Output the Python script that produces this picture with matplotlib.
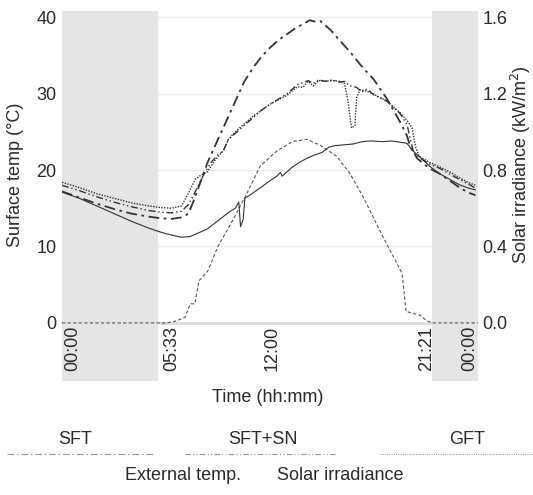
import matplotlib
matplotlib.use("Agg")
import matplotlib.pyplot as plt
from matplotlib.lines import Line2D

plt.rcParams['font.family'] = ['Liberation Sans', 'DejaVu Sans']

# --- data (hours since midnight) ---
t_sft = [0, 1, 2, 3, 4, 5, 5.65, 6.3, 6.9, 7.3, 7.6, 8.0, 8.4, 8.9, 9.5, 10.0, 10.5, 11.0,
         11.5, 12.0, 12.5, 13.0, 13.5, 14.0, 14.3, 14.6, 14.9, 15.5, 16.0, 16.6, 17.2, 18.0,
         18.75, 19.5, 19.9, 20.1, 20.5, 21.2, 21.8, 22.5, 23.0, 23.5, 23.85]
sft = [17.2, 16.4, 15.6, 14.9, 14.3, 13.9, 13.7, 13.6, 13.8, 14.3, 16.0, 18.5, 21.0, 23.5,
       26.5, 29.0, 31.5, 33.3, 34.8, 36.0, 37.0, 37.8, 38.6, 39.2, 39.6, 39.4, 39.5, 38.3,
       37.0, 35.5, 33.8, 31.8, 29.3, 26.3, 24.5, 23.0, 21.5, 20.2, 19.5, 18.4, 17.6, 17.0, 16.7]

t_sftsn = [0, 1, 2, 3, 4, 5, 5.65, 6.3, 6.9, 7.3, 7.7, 8.2, 8.6, 9.0, 9.3, 9.6, 10.0, 10.5,
           11.0, 11.5, 12.0, 12.5, 13.0, 13.3, 13.6, 13.9, 14.2, 14.5, 14.8, 15.2, 15.6, 16.0,
           16.3, 16.6, 17.0, 17.3, 17.6, 18.0, 18.75, 19.5, 19.9, 20.1, 20.3, 20.7, 21.2, 21.8,
           22.5, 23.0, 23.5, 23.85]
sftsn = [18.0, 17.3, 16.5, 15.8, 15.2, 14.7, 14.5, 14.4, 14.6, 15.5, 17.2, 19.5, 21.0, 22.0,
         22.5, 24.0, 24.8, 25.8, 26.8, 27.8, 28.6, 29.3, 30.0, 30.6, 31.2, 31.4, 31.7, 31.3,
         31.8, 31.6, 31.8, 31.5, 31.6, 31.0, 30.8, 30.2, 30.6, 29.8, 29.0, 27.4, 26.0, 24.0,
         22.2, 21.5, 20.8, 20.2, 19.3, 18.7, 18.1, 17.6]

t_gft = [0, 1, 2, 3, 4, 5, 5.65, 6.3, 6.9, 7.3, 7.7, 8.0, 8.4, 8.8, 9.3, 9.6, 10.0, 10.5,
         11.0, 11.5, 12.0, 12.5, 13.0, 13.3, 13.6, 13.9, 14.2, 14.5, 14.8, 15.2, 15.6, 16.0,
         16.3, 16.5, 16.7, 16.9, 17.0, 17.2, 17.6, 18.0, 18.75, 19.5, 19.9, 20.2, 20.4, 20.6,
         21.2, 21.8, 22.5, 23.0, 23.5, 23.85]
gft = [18.4, 17.7, 16.9, 16.3, 15.7, 15.3, 15.1, 15.0, 15.3, 17.0, 18.8, 19.3, 19.8, 21.2,
       22.5, 24.0, 25.0, 26.0, 27.0, 27.8, 28.6, 29.2, 29.8, 30.4, 30.9, 30.8, 31.6, 31.0,
       31.7, 31.6, 31.7, 31.6, 31.3, 29.0, 25.5, 25.8, 29.5, 30.5, 30.3, 29.9, 29.0, 27.5,
       26.5, 25.5, 23.0, 21.8, 21.0, 20.4, 19.6, 18.9, 18.3, 18.0]

t_ext = [0, 1, 2, 3, 4, 5, 5.65, 6.3, 6.9, 7.4, 7.9, 8.4, 8.9, 9.3, 9.7, 10.0, 10.2, 10.3,
         10.45, 10.55, 10.9, 11.4, 12.0, 12.4, 12.6, 12.7, 13.0, 13.3, 13.7, 14.1, 14.5, 15.0,
         15.4, 15.8, 16.3, 16.8, 17.3, 17.8, 18.5, 19.0, 19.6, 19.9, 20.2, 20.6, 21.2, 21.8,
         22.5, 23.0, 23.5, 23.85]
ext = [17.1, 16.3, 15.3, 14.3, 13.3, 12.4, 11.9, 11.5, 11.2, 11.3, 11.8, 12.3, 13.2, 13.9,
       14.6, 15.0, 15.8, 12.6, 13.5, 16.3, 16.8, 17.6, 18.6, 19.2, 19.7, 19.2, 19.8, 20.4,
       21.0, 21.5, 21.9, 22.3, 23.0, 23.2, 23.3, 23.4, 23.7, 23.8, 23.7, 23.8, 23.6, 23.5,
       22.6, 21.8, 20.5, 19.5, 18.6, 18.0, 17.6, 17.4]

t_irr = [0, 5.55, 6.05, 6.6, 7.1, 7.4, 7.67, 7.9, 8.4, 9.0, 9.87, 10.68, 11.43, 12.4, 13.33,
         14.14, 14.89, 15.87, 16.62, 17.37, 18.52, 19.33, 19.62, 19.85, 20.25, 20.66, 21.06,
         21.4, 24.0]
irr = [0.0, 0.0, 0.0, 0.01, 0.03, 0.10, 0.10, 0.22, 0.27, 0.40, 0.54, 0.68, 0.82, 0.90, 0.95,
       0.96, 0.93, 0.87, 0.78, 0.66, 0.45, 0.31, 0.26, 0.06, 0.05, 0.04, 0.01, 0.0, 0.0]

night = [(0, 5.55), (21.35, 24)]
time_ticks = [0.6, 6.35, 12.1, 21.05, 23.55]
time_labels = ['00:00', '05:33', '12:00', '21:21', '00:00']
temp_ticks = [0, 10, 20, 30, 40]
irr_ticks = [0.0, 0.4, 0.8, 1.2, 1.6]

ink = '#2b2b2b'
line_ink = '#333333'

fig = plt.figure(figsize=(5.33, 4.95), dpi=100)
ax = fig.add_axes([0.1163, 0.2303, 0.7805, 0.7475])
ax.set_xlim(0, 24)
ax.set_ylim(-7.6, 40.8)

# grid + night shading
for v in temp_ticks[1:]:
    ax.axhline(v, color='#ebebeb', lw=1, zorder=0)
ax.axhline(0, color='#dcdcdc', lw=2, zorder=0)
for a, b in night:
    ax.axvspan(a, b, color='#e5e5e5', lw=0, zorder=1)

# irradiance on temperature scale (1.6 kW/m2 == 40 C)
ax.plot(t_irr, [v * 25 for v in irr], color='#555555', lw=0.8, dashes=(3, 2), zorder=3)
ax.plot(t_ext, ext, color=line_ink, lw=0.8, zorder=3)
ax.plot(t_gft, gft, color=line_ink, lw=1.0, dashes=(1, 1), zorder=3)
ax.plot(t_sftsn, sftsn, color=line_ink, lw=1.0, dashes=(5, 2, 1, 2, 1, 2), zorder=3)
ax.plot(t_sft, sft, color=line_ink, lw=1.3, dashes=(6, 2.5, 1.5, 2.5), zorder=3)

for s in ax.spines.values():
    s.set_visible(False)
ax.set_xticks([])
ax.set_yticks(temp_ticks)
ax.set_yticklabels([str(v) for v in temp_ticks], fontsize=13, color=ink)
ax.tick_params(axis='y', length=0, pad=4)

for x, lab in zip(time_ticks, time_labels):
    ax.text(x, -0.4, lab, rotation=90, ha='center', va='top', fontsize=13, color=ink, zorder=4)

ax2 = ax.twinx()
ax2.set_ylim(-7.6 / 25, 40.8 / 25)
ax2.set_yticks(irr_ticks)
ax2.set_yticklabels([f'{v:.1f}' for v in irr_ticks], fontsize=13, color=ink)
ax2.tick_params(axis='y', length=0, pad=3)
for s in ax2.spines.values():
    s.set_visible(False)

fig.text(0.030, 1 - 175 / 495, 'Surface temp (°C)', rotation=90, ha='center', va='center',
         fontsize=13, color=ink)
fig.text(0.977, 1 - 165 / 495, 'Solar irradiance (kW/m$^2$)', rotation=90, ha='center',
         va='center', fontsize=13, color=ink)
fig.text(268 / 533, 1 - 398 / 495, 'Time (hh:mm)', ha='center', va='center', fontsize=13, color=ink)

# legend drawn by hand: label above line sample
leg = [('SFT', 75, 7, 155, (6, 2.5, 1.5, 2.5)),
       ('SFT+SN', 263, 185, 337, (5, 2, 1, 2, 1, 2)),
       ('GFT', 467, 380, 533, (1, 1))]
for lab, cx, x0, x1, dsh in leg:
    fig.text(cx / 533, 1 - 440 / 495, lab, ha='center', va='center', fontsize=13, color=ink)
    fig.add_artist(Line2D([x0 / 533, x1 / 533], [1 - 454 / 495] * 2, color='#999999', lw=0.8,
                          dashes=dsh, transform=fig.transFigure))
fig.text(183 / 533, 1 - 476 / 495, 'External temp.', ha='center', va='center', fontsize=13, color=ink)
fig.text(340 / 533, 1 - 476 / 495, 'Solar irradiance', ha='center', va='center', fontsize=13, color=ink)

fig.savefig('out.png', dpi=100)
